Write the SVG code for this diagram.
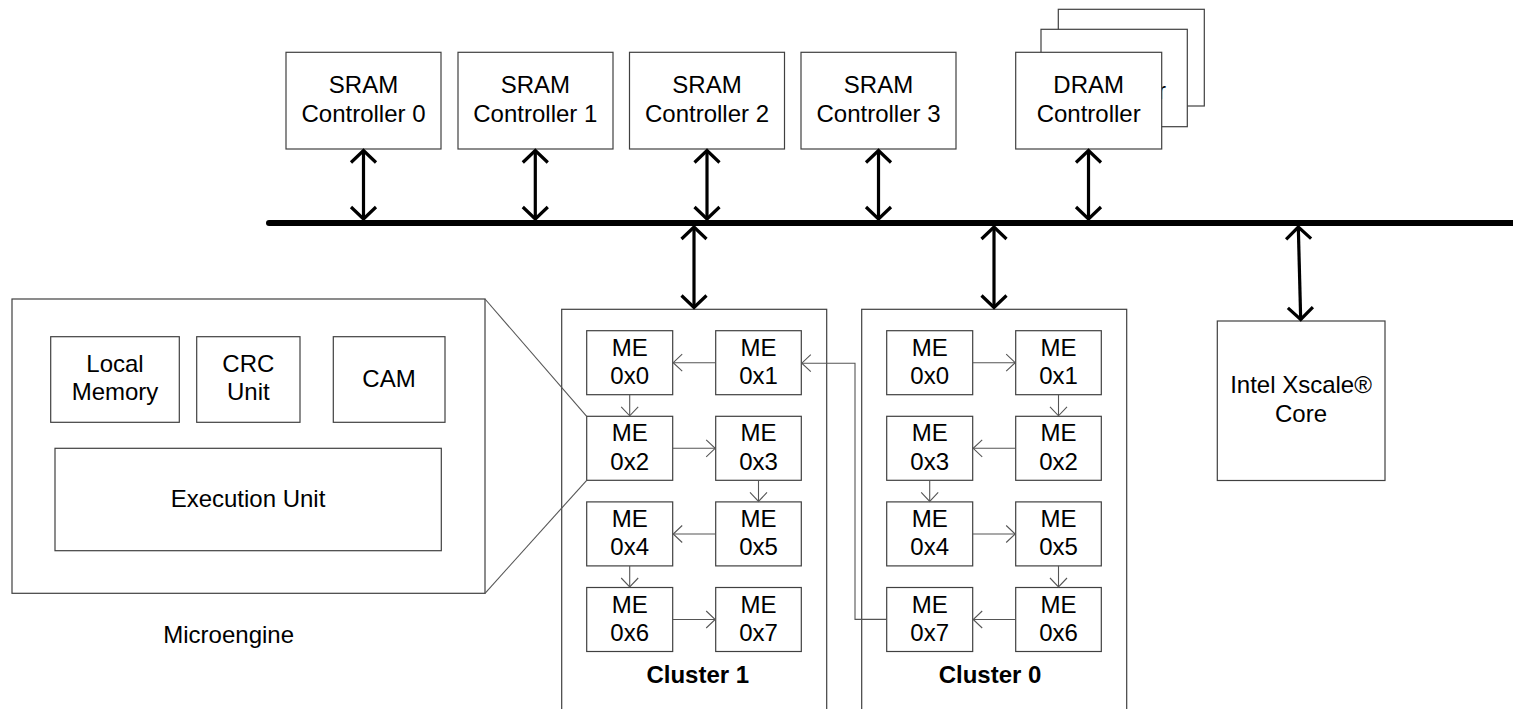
<svg xmlns="http://www.w3.org/2000/svg" width="1513" height="709" viewBox="0 0 1513 709">
<defs>
<style>
.box{fill:#fff;stroke:#404040;stroke-width:1.2}
.t{font-family:"Liberation Sans",Arial,sans-serif;font-size:24px;fill:#000;text-anchor:middle}
.b{font-weight:bold}
.big{fill:none;stroke:#000;stroke-width:3.2}
.thin{fill:none;stroke:#555;stroke-width:1.1}
.bus{stroke:#000;stroke-width:6;stroke-linecap:round}
</style>
<marker id="bh" viewBox="-16 -16 32 32" markerWidth="32" markerHeight="32" refX="0" refY="0" orient="auto-start-reverse" markerUnits="userSpaceOnUse">
<path d="M-12,-12.5 L0,0 L-12,12.5" fill="none" stroke="#000" stroke-width="3.2"/>
</marker>
<marker id="sh" viewBox="-12 -12 24 24" markerWidth="24" markerHeight="24" refX="0" refY="0" orient="auto" markerUnits="userSpaceOnUse">
<path d="M-9,-8.5 L0,0 L-9,8.5" fill="none" stroke="#555" stroke-width="1.1"/>
</marker>
</defs>
<rect width="1513" height="709" fill="#fff"/>

<g id="sram0"><rect class="box" x="286" y="52.3" width="155" height="96.7"/><text class="t" x="363.5" y="93.3">SRAM</text><text class="t" x="363.5" y="121.7">Controller 0</text></g>
<g id="sram1"><rect class="box" x="458" y="52.3" width="155" height="96.7"/><text class="t" x="535.3" y="93.3">SRAM</text><text class="t" x="535.3" y="121.7">Controller 1</text></g>
<g id="sram2"><rect class="box" x="629.5" y="52.3" width="155" height="96.7"/><text class="t" x="707" y="93.3">SRAM</text><text class="t" x="707" y="121.7">Controller 2</text></g>
<g id="sram3"><rect class="box" x="801" y="52.3" width="155" height="96.7"/><text class="t" x="878.5" y="93.3">SRAM</text><text class="t" x="878.5" y="121.7">Controller 3</text></g>
<g id="dram">
<rect class="box" x="1058.3" y="9.3" width="146" height="96.7"/>
<rect class="box" x="1041" y="29.3" width="146.3" height="97.4"/>
<text class="t" x="1166" y="98.7" style="text-anchor:end">r</text>
<rect class="box" x="1015.7" y="52.3" width="146" height="96.7"/>
<text class="t" x="1088.7" y="93.3">DRAM</text><text class="t" x="1088.7" y="121.7">Controller</text>
</g>
<g id="xscale"><rect class="box" x="1217.3" y="321" width="167.7" height="159.5"/><text class="t" x="1301" y="392.7">Intel Xscale®</text><text class="t" x="1301" y="421.7">Core</text></g>

<g id="microengine">
<rect class="box" x="12" y="299" width="473" height="294.3"/>
<rect class="box" x="50.7" y="336.7" width="128.6" height="85.6"/>
<text class="t" x="115" y="371.7">Local</text><text class="t" x="115" y="400">Memory</text>
<rect class="box" x="196.7" y="336.7" width="103.3" height="85.6"/>
<text class="t" x="248.3" y="371.7">CRC</text><text class="t" x="248.3" y="400">Unit</text>
<rect class="box" x="333.3" y="336.7" width="111.7" height="85.6"/>
<text class="t" x="389" y="387.3">CAM</text>
<rect class="box" x="55" y="448.3" width="386.3" height="102.4"/>
<text class="t" x="248" y="506.7">Execution Unit</text>
<text class="t" x="163.3" y="643" style="text-anchor:start">Microengine</text>
</g>

<g id="cluster1">
<rect class="box" x="561.7" y="309.3" width="265" height="420"/>
<text class="t b" x="697.8" y="683.3">Cluster 1</text>
<g id="c1me0"><rect class="box" x="586.7" y="330.7" width="86" height="64"/><text class="t" x="629.7" y="355.7">ME</text><text class="t" x="629.7" y="384">0x0</text></g>
<g id="c1me1"><rect class="box" x="715.7" y="330.7" width="85.6" height="64"/><text class="t" x="758.5" y="355.7">ME</text><text class="t" x="758.5" y="384">0x1</text></g>
<g id="c1me2"><rect class="box" x="586.7" y="416.3" width="86" height="64"/><text class="t" x="629.7" y="441.3">ME</text><text class="t" x="629.7" y="469.6">0x2</text></g>
<g id="c1me3"><rect class="box" x="715.7" y="416.3" width="85.6" height="64"/><text class="t" x="758.5" y="441.3">ME</text><text class="t" x="758.5" y="469.6">0x3</text></g>
<g id="c1me4"><rect class="box" x="586.7" y="501.9" width="86" height="64"/><text class="t" x="629.7" y="526.9">ME</text><text class="t" x="629.7" y="555.2">0x4</text></g>
<g id="c1me5"><rect class="box" x="715.7" y="501.9" width="85.6" height="64"/><text class="t" x="758.5" y="526.9">ME</text><text class="t" x="758.5" y="555.2">0x5</text></g>
<g id="c1me6"><rect class="box" x="586.7" y="587.5" width="86" height="64"/><text class="t" x="629.7" y="612.5">ME</text><text class="t" x="629.7" y="640.8">0x6</text></g>
<g id="c1me7"><rect class="box" x="715.7" y="587.5" width="85.6" height="64"/><text class="t" x="758.5" y="612.5">ME</text><text class="t" x="758.5" y="640.8">0x7</text></g>
</g>

<g id="cluster0">
<rect class="box" x="861.7" y="309.3" width="265" height="420"/>
<text class="t b" x="990" y="683.3">Cluster 0</text>
<g id="c0me0"><rect class="box" x="886.7" y="330.7" width="86" height="64"/><text class="t" x="929.7" y="355.7">ME</text><text class="t" x="929.7" y="384">0x0</text></g>
<g id="c0me1"><rect class="box" x="1015.7" y="330.7" width="85.6" height="64"/><text class="t" x="1058.5" y="355.7">ME</text><text class="t" x="1058.5" y="384">0x1</text></g>
<g id="c0me3"><rect class="box" x="886.7" y="416.3" width="86" height="64"/><text class="t" x="929.7" y="441.3">ME</text><text class="t" x="929.7" y="469.6">0x3</text></g>
<g id="c0me2"><rect class="box" x="1015.7" y="416.3" width="85.6" height="64"/><text class="t" x="1058.5" y="441.3">ME</text><text class="t" x="1058.5" y="469.6">0x2</text></g>
<g id="c0me4"><rect class="box" x="886.7" y="501.9" width="86" height="64"/><text class="t" x="929.7" y="526.9">ME</text><text class="t" x="929.7" y="555.2">0x4</text></g>
<g id="c0me5"><rect class="box" x="1015.7" y="501.9" width="85.6" height="64"/><text class="t" x="1058.5" y="526.9">ME</text><text class="t" x="1058.5" y="555.2">0x5</text></g>
<g id="c0me7"><rect class="box" x="886.7" y="587.5" width="86" height="64"/><text class="t" x="929.7" y="612.5">ME</text><text class="t" x="929.7" y="640.8">0x7</text></g>
<g id="c0me6"><rect class="box" x="1015.7" y="587.5" width="85.6" height="64"/><text class="t" x="1058.5" y="612.5">ME</text><text class="t" x="1058.5" y="640.8">0x6</text></g>
</g>

<g id="connectors">
<line class="bus" x1="269" y1="223" x2="1520" y2="223"/>
<line class="big" x1="363.5" y1="150.5" x2="363.5" y2="219" marker-start="url(#bh)" marker-end="url(#bh)"/>
<line class="big" x1="535.3" y1="150.5" x2="535.3" y2="219" marker-start="url(#bh)" marker-end="url(#bh)"/>
<line class="big" x1="707" y1="150.5" x2="707" y2="219" marker-start="url(#bh)" marker-end="url(#bh)"/>
<line class="big" x1="878.5" y1="150.5" x2="878.5" y2="219" marker-start="url(#bh)" marker-end="url(#bh)"/>
<line class="big" x1="1088.5" y1="150.5" x2="1088.5" y2="219" marker-start="url(#bh)" marker-end="url(#bh)"/>
<line class="big" x1="694" y1="227" x2="694" y2="307.5" marker-start="url(#bh)" marker-end="url(#bh)"/>
<line class="big" x1="994" y1="227" x2="994" y2="307.5" marker-start="url(#bh)" marker-end="url(#bh)"/>
<line class="big" x1="1298.3" y1="227" x2="1300.7" y2="319.5" marker-start="url(#bh)" marker-end="url(#bh)"/>

<line class="thin" x1="485" y1="299" x2="586.7" y2="416.3"/>
<line class="thin" x1="485" y1="593.3" x2="586.7" y2="480.3"/>

<line class="thin" x1="715.7" y1="362.7" x2="673.2" y2="362.7" marker-end="url(#sh)"/>
<line class="thin" x1="629.7" y1="394.7" x2="629.7" y2="415.8" marker-end="url(#sh)"/>
<line class="thin" x1="672.7" y1="448.3" x2="715.2" y2="448.3" marker-end="url(#sh)"/>
<line class="thin" x1="758.5" y1="480.3" x2="758.5" y2="501.4" marker-end="url(#sh)"/>
<line class="thin" x1="715.7" y1="534" x2="673.2" y2="534" marker-end="url(#sh)"/>
<line class="thin" x1="629.7" y1="565.9" x2="629.7" y2="587" marker-end="url(#sh)"/>
<line class="thin" x1="672.7" y1="619.5" x2="715.2" y2="619.5" marker-end="url(#sh)"/>

<line class="thin" x1="972.7" y1="362.7" x2="1015.2" y2="362.7" marker-end="url(#sh)"/>
<line class="thin" x1="1058.5" y1="394.7" x2="1058.5" y2="415.8" marker-end="url(#sh)"/>
<line class="thin" x1="1015.7" y1="448.3" x2="973.2" y2="448.3" marker-end="url(#sh)"/>
<line class="thin" x1="929.7" y1="480.3" x2="929.7" y2="501.4" marker-end="url(#sh)"/>
<line class="thin" x1="972.7" y1="534" x2="1015.2" y2="534" marker-end="url(#sh)"/>
<line class="thin" x1="1058.5" y1="565.9" x2="1058.5" y2="587" marker-end="url(#sh)"/>
<line class="thin" x1="1015.7" y1="619.5" x2="973.2" y2="619.5" marker-end="url(#sh)"/>

<polyline class="thin" points="886.7,619.4 855,619.4 855,363.2 801.8,363.2" marker-end="url(#sh)"/>
</g>
</svg>
